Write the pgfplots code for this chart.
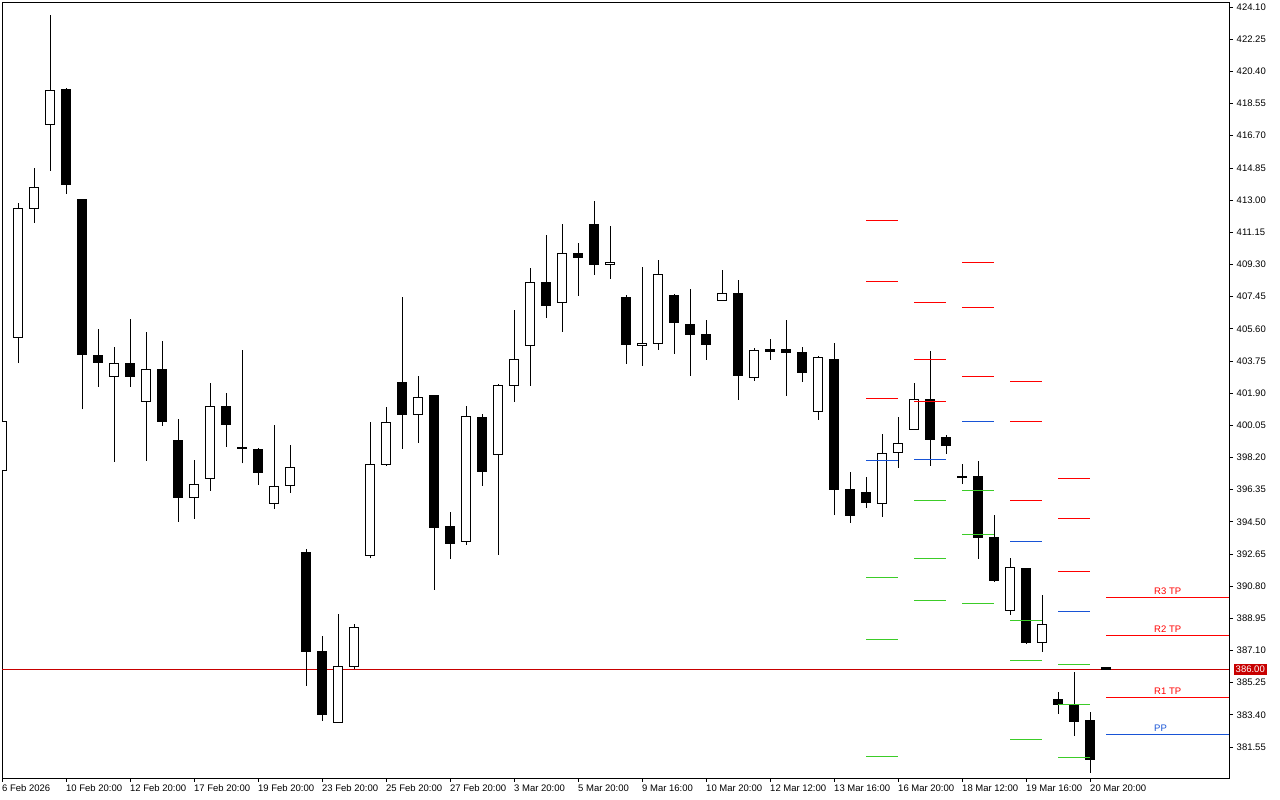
\documentclass[border=0pt]{standalone}
\usepackage{pgfplots}
\pgfplotsset{compat=1.18}
\usepackage{pgfplotstable}
\usepackage{fontspec}
\setmainfont{Liberation Sans}
\definecolor{pivred}{RGB}{255,0,0}
\definecolor{pivblue}{RGB}{24,84,214}
\definecolor{pivgreen}{RGB}{60,204,40}
\definecolor{pricered}{RGB}{200,0,0}

\pgfplotstableread{
i o h l c
0 397.46 400.80 397.00 400.25
1 405.12 412.83 403.63 412.54
2 412.53 414.82 411.70 413.73
3 417.36 423.64 414.69 419.31
4 419.33 419.43 413.36 413.88
5 413.06 413.06 400.97 404.11
6 404.09 405.58 402.27 403.65
7 402.84 404.55 397.95 403.61
8 403.61 406.16 402.27 402.84
9 401.43 405.41 398.01 403.27
10 403.27 404.89 400.02 400.25
11 399.18 400.39 394.50 395.88
12 395.91 398.05 394.68 396.65
13 397.00 402.46 396.29 401.14
14 401.14 401.89 398.82 400.11
15 398.77 404.38 397.86 398.71
16 398.67 398.72 396.63 397.32
17 395.56 400.06 395.25 396.52
18 396.60 398.91 396.17 397.63
19 392.76 392.93 385.07 387.03
20 387.05 387.93 383.06 383.43
21 382.97 389.20 382.97 386.19
22 386.17 388.62 386.02 388.43
23 392.55 400.22 392.40 397.80
24 397.80 401.08 397.72 400.22
25 402.52 407.42 398.70 400.66
26 400.66 402.86 399.05 401.66
27 401.77 401.77 390.58 394.16
28 394.24 395.04 392.36 393.24
29 393.38 401.14 393.18 400.56
30 400.51 400.68 396.57 397.38
31 398.38 402.41 392.61 402.35
32 402.35 406.68 401.40 403.84
33 404.65 409.07 402.32 408.27
34 408.27 410.99 406.23 406.92
35 407.12 411.62 405.43 409.94
36 409.90 410.53 407.50 409.68
37 411.62 412.94 408.71 409.28
38 409.30 411.51 408.48 409.42
39 407.42 407.52 403.59 404.68
40 404.65 409.15 403.47 404.78
41 404.76 409.55 404.39 408.73
42 407.52 407.58 404.16 405.95
43 405.86 407.87 402.90 405.26
44 405.28 406.10 403.82 404.68
45 407.24 408.98 407.24 407.64
46 407.64 408.40 401.52 402.90
47 402.81 404.47 402.61 404.36
48 404.38 405.01 403.82 404.28
49 404.38 406.10 401.75 404.22
50 404.25 404.55 402.55 403.07
51 400.85 404.03 400.37 403.96
52 403.84 404.76 394.89 396.37
53 396.37 397.36 394.45 394.85
54 396.20 397.07 395.31 395.60
55 395.56 399.55 394.79 398.44
56 398.49 400.52 397.61 399.01
57 399.82 402.46 399.82 401.54
58 401.54 404.32 397.71 399.22
59 399.32 399.49 398.40 398.87
60 397.13 397.82 396.67 397.07
61 397.13 397.99 392.38 393.58
62 393.60 394.89 391.06 391.11
63 389.41 392.42 389.16 391.88
64 391.83 391.83 387.47 387.55
65 387.57 390.29 387.03 388.60
66 384.31 384.69 383.46 384.00
67 384.00 385.88 382.20 383.00
68 383.10 383.58 380.07 380.82
69 386.15 386.15 386.00 386.00
}\candles

\begin{document}
\fontsize{9.5}{11}\selectfont
\begin{tikzpicture}
\path[use as bounding box] (0,0) rectangle (1280pt,800pt);
\begin{axis}[
  at={(2pt,22pt)}, anchor=south west,
  scale only axis, width=1227pt, height=776pt,
  xmin=0, xmax=76.6875, ymin=379.77, ymax=424.39,
  axis line style={line width=0.9pt, black},
  tick align=outside, major tick length=4pt,
  tick style={black, line width=0.8pt},
  xtick pos=bottom, ytick pos=right,
  xtick={0,4,...,68},
  xticklabels={6 Feb 2026,10 Feb 20:00,12 Feb 20:00,17 Feb 20:00,19 Feb 20:00,23 Feb 20:00,25 Feb 20:00,27 Feb 20:00,3 Mar 20:00,5 Mar 20:00,9 Mar 16:00,10 Mar 20:00,12 Mar 12:00,13 Mar 16:00,16 Mar 20:00,18 Mar 12:00,19 Mar 16:00,20 Mar 20:00},
  xticklabel style={anchor=north west, inner sep=0pt, yshift=-2.5pt, font=\fontsize{9.5}{11}\selectfont},
  ytick={381.55,383.40,385.25,387.10,388.95,390.80,392.65,394.50,396.35,398.20,400.05,401.90,403.75,405.60,407.45,409.30,411.15,413.00,414.85,416.70,418.55,420.40,422.25,424.10},
  yticklabel pos=right,
  scaled y ticks=false,
  yticklabel style={anchor=west, inner sep=0pt, xshift=3.5pt, font=\fontsize{9.5}{11}\selectfont,
    /pgf/number format/fixed, /pgf/number format/fixed zerofill,
    /pgf/number format/precision=2, /pgf/number format/assume math mode=true},
  extra y ticks={386.00},
  extra y tick style={
    yticklabel style={fill=pricered, text=white, inner xsep=2pt, inner ysep=2pt, xshift=1pt},
    major tick length=0pt},
  clip=true,
]
% current price line
\addplot[pricered, line width=0.9pt, forget plot] coordinates {(0,386.00) (76.6875,386.00)};

% candles
\pgfplotstablegetrowsof{\candles}
\pgfmathtruncatemacro\N{\pgfplotsretval-1}
\foreach \r in {0,...,\N}{
  \pgfplotstablegetelem{\r}{i}\of\candles \let\ci\pgfplotsretval
  \pgfplotstablegetelem{\r}{o}\of\candles \let\co\pgfplotsretval
  \pgfplotstablegetelem{\r}{h}\of\candles \let\ch\pgfplotsretval
  \pgfplotstablegetelem{\r}{l}\of\candles \let\cl\pgfplotsretval
  \pgfplotstablegetelem{\r}{c}\of\candles \let\cc\pgfplotsretval
  \pgfmathsetmacro\xa{\ci-0.29}
  \pgfmathsetmacro\xb{\ci+0.29}
  \pgfmathtruncatemacro\bear{\cc<\co}
  \ifnum\bear=1 \def\fc{black}\else\def\fc{white}\fi
  \edef\cmd{%
    \noexpand\addplot[black, line width=1pt, forget plot] coordinates {(\ci,\cl) (\ci,\ch)};
    \noexpand\addplot[draw=black, fill=\fc, line width=1pt, forget plot] coordinates {(\xa,\co) (\xb,\co) (\xb,\cc) (\xa,\cc)} -- cycle;
  }
  \cmd
}

% pivot levels, column A (54-56)
\addplot[pivred, line width=1pt] coordinates {(54,411.83) (56,411.83)};
\addplot[pivred, line width=1pt] coordinates {(54,408.33) (56,408.33)};
\addplot[pivred, line width=1pt] coordinates {(54,401.60) (56,401.60)};
\addplot[pivblue, line width=1pt] coordinates {(54,398.03) (56,398.03)};
\addplot[pivgreen, line width=1pt] coordinates {(54,391.31) (56,391.31)};
\addplot[pivgreen, line width=1pt] coordinates {(54,387.74) (56,387.74)};
\addplot[pivgreen, line width=1pt] coordinates {(54,381.03) (56,381.03)};
% column B (57-59)
\addplot[pivred, line width=1pt] coordinates {(57,407.12) (59,407.12)};
\addplot[pivred, line width=1pt] coordinates {(57,403.84) (59,403.84)};
\addplot[pivred, line width=1pt] coordinates {(57,401.44) (59,401.44)};
\addplot[pivblue, line width=1pt] coordinates {(57,398.09) (59,398.09)};
\addplot[pivgreen, line width=1pt] coordinates {(57,395.73) (59,395.73)};
\addplot[pivgreen, line width=1pt] coordinates {(57,392.40) (59,392.40)};
\addplot[pivgreen, line width=1pt] coordinates {(57,389.98) (59,389.98)};
% column C (60-62)
\addplot[pivred, line width=1pt] coordinates {(60,409.42) (62,409.42)};
\addplot[pivred, line width=1pt] coordinates {(60,406.83) (62,406.83)};
\addplot[pivred, line width=1pt] coordinates {(60,402.86) (62,402.86)};
\addplot[pivblue, line width=1pt] coordinates {(60,400.28) (62,400.28)};
\addplot[pivgreen, line width=1pt] coordinates {(60,396.31) (62,396.31)};
\addplot[pivgreen, line width=1pt] coordinates {(60,393.78) (62,393.78)};
\addplot[pivgreen, line width=1pt] coordinates {(60,389.81) (62,389.81)};
% column D (63-65)
\addplot[pivred, line width=1pt] coordinates {(63,402.58) (65,402.58)};
\addplot[pivred, line width=1pt] coordinates {(63,400.28) (65,400.28)};
\addplot[pivred, line width=1pt] coordinates {(63,395.73) (65,395.73)};
\addplot[pivblue, line width=1pt] coordinates {(63,393.38) (65,393.38)};
\addplot[pivgreen, line width=1pt] coordinates {(63,388.83) (65,388.83)};
\addplot[pivgreen, line width=1pt] coordinates {(63,386.53) (65,386.53)};
\addplot[pivgreen, line width=1pt] coordinates {(63,381.99) (65,381.99)};
% column E (66-68)
\addplot[pivred, line width=1pt] coordinates {(66,397.00) (68,397.00)};
\addplot[pivred, line width=1pt] coordinates {(66,394.70) (68,394.70)};
\addplot[pivred, line width=1pt] coordinates {(66,391.65) (68,391.65)};
\addplot[pivblue, line width=1pt] coordinates {(66,389.35) (68,389.35)};
\addplot[pivgreen, line width=1pt] coordinates {(66,386.30) (68,386.30)};
\addplot[pivgreen, line width=1pt] coordinates {(66,384.00) (68,384.00)};
\addplot[pivgreen, line width=1pt] coordinates {(66,380.96) (68,380.96)};
% column F (69-end)
\addplot[pivred, line width=1pt] coordinates {(69,390.17) (76.6875,390.17)};
\addplot[pivred, line width=1pt] coordinates {(69,387.99) (76.6875,387.99)};
\addplot[pivred, line width=1pt] coordinates {(69,384.41) (76.6875,384.41)};
\addplot[pivblue, line width=1pt] coordinates {(69,382.28) (76.6875,382.28)};

\node[anchor=south west, inner sep=0pt, text=pivred, yshift=2.5pt] at (axis cs:72,390.17) {R3 TP};
\node[anchor=south west, inner sep=0pt, text=pivred, yshift=2.5pt] at (axis cs:72,387.99) {R2 TP};
\node[anchor=south west, inner sep=0pt, text=pivred, yshift=2.5pt] at (axis cs:72,384.41) {R1 TP};
\node[anchor=south west, inner sep=0pt, text=pivblue, yshift=2.5pt] at (axis cs:72,382.28) {PP};
\end{axis}
\end{tikzpicture}
\end{document}
